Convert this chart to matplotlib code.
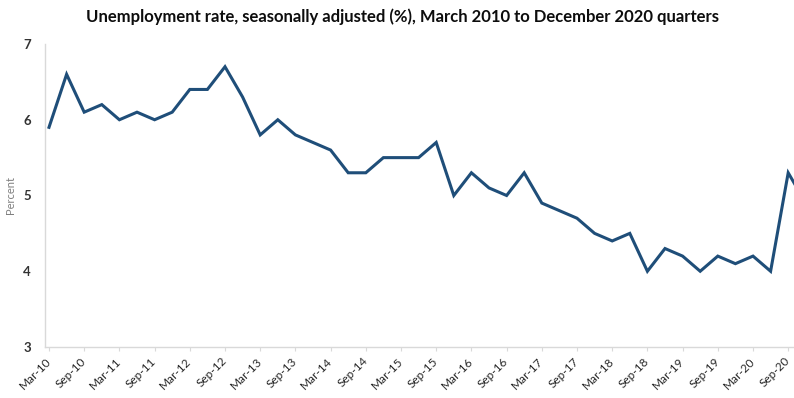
import matplotlib
matplotlib.use("Agg")
import matplotlib.pyplot as plt
from matplotlib.transforms import ScaledTranslation

plt.rcParams['font.family'] = ['Lato', 'DejaVu Sans']

# Quarterly unemployment rate, seasonally adjusted (%), Mar 2010 - Dec 2020
quarters = [f"{m}-{y:02d}" for y in range(10, 21) for m in ("Mar", "Jun", "Sep", "Dec")]
rate = [5.9, 6.6, 6.1, 6.2,
        6.0, 6.1, 6.0, 6.1,
        6.4, 6.4, 6.7, 6.3,
        5.8, 6.0, 5.8, 5.7,
        5.6, 5.3, 5.3, 5.5,
        5.5, 5.5, 5.7, 5.0,
        5.3, 5.1, 5.0, 5.3,
        4.9, 4.8, 4.7, 4.5,
        4.4, 4.5, 4.0, 4.3,
        4.2, 4.0, 4.2, 4.1,
        4.2, 4.0, 5.3, 4.9]
y_ticks = [3, 4, 5, 6, 7]

W, H = 794, 398
fig = plt.figure(figsize=(W / 100, H / 100), dpi=100)
left_px, right_px, top_px, bottom_px = 45, 794, 44, 347
ax = fig.add_axes([left_px / W, 1 - bottom_px / H,
                   (right_px - left_px) / W, (bottom_px - top_px) / H])

x = list(range(len(rate)))
ax.plot(x, rate, color="#1f4e79", linewidth=2.2, solid_joinstyle="miter")

step = 17.6
ax.set_xlim(-(49 - left_px) / step, (right_px - 49) / step)
ax.set_ylim(3, 7)
ax.set_yticks(y_ticks)
ax.set_yticklabels([str(v) for v in y_ticks], fontsize=9.5, fontweight="bold",
                   color="#333333")
ax.tick_params(axis="y", length=0, pad=10)

tick_idx = x[::2]
ax.set_xticks(tick_idx)
ax.set_xticklabels([quarters[i] for i in tick_idx], rotation=45, ha="right",
                   rotation_mode="anchor", fontsize=8.5, color="#262626")
ax.tick_params(axis="x", length=3, color="#d9d9d9", pad=3)
shift = ScaledTranslation(-4 / 100, 0, fig.dpi_scale_trans)
for lbl in ax.get_xticklabels():
    lbl.set_transform(lbl.get_transform() + shift)

for side in ("top", "right"):
    ax.spines[side].set_visible(False)
for side in ("left", "bottom"):
    ax.spines[side].set_color("#d9d9d9")
    ax.spines[side].set_linewidth(1.0)

ax.set_ylabel("Percent", fontsize=8, color="#7f7f7f", labelpad=5)

fig.text(0.5 + 5 / W, 1 - 17 / H,
         "Unemployment rate, seasonally adjusted (%), March 2010 to December 2020 quarters",
         ha="center", va="center", fontsize=12, fontweight="bold", color="#0d0d0d")

fig.savefig("out.png", dpi=100)
